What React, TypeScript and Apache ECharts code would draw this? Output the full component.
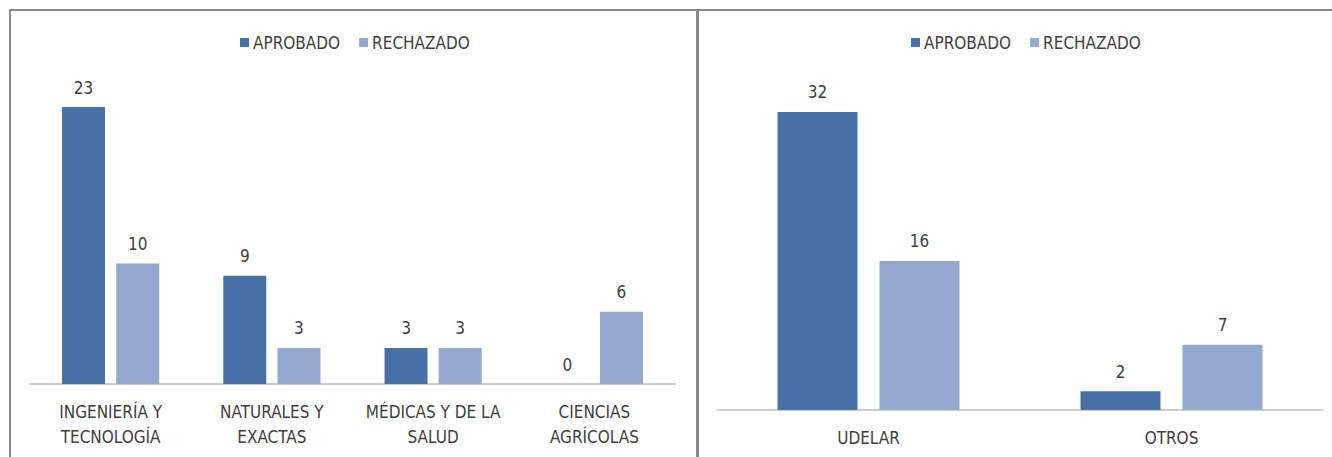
import React, { useEffect, useRef } from "react";
import * as echarts from "echarts";

const seriesNames = ["APROBADO", "RECHAZADO"];
const areaCategories = ["INGENIERÍA Y\nTECNOLOGÍA", "NATURALES Y\nEXACTAS", "MÉDICAS Y DE LA\nSALUD", "CIENCIAS\nAGRÍCOLAS"];
const areaAprobado = [23, 9, 3, 0];
const areaRechazado = [10, 3, 3, 6];
const instCategories = ["UDELAR", "OTROS"];
const instAprobado = [32, 2];
const instRechazado = [16, 7];

const COLORS = ["#4672A8", "#95A9D0"];
const FONT = "'Liberation Sans Narrow', 'DejaVu Sans Condensed', 'Open Sans', sans-serif";
const TEXT = "#404040";

export default function App() {
  const ref = useRef<HTMLDivElement>(null);
  useEffect(() => {
    if (!ref.current) return;
    const chart = echarts.init(ref.current, undefined, { renderer: "svg" });
    const label = {
      show: true,
      position: "top",
      distance: 11,
      color: TEXT,
      fontSize: 17,
      fontFamily: FONT,
    };
    const axisLabel = {
      interval: 0,
      color: TEXT,
      fontSize: 17,
      fontFamily: FONT,
      lineHeight: 25,
      margin: 15,
    };
    const legendBase = {
      itemWidth: 9,
      itemHeight: 9,
      itemGap: 19,
      icon: "rect",
      top: 29,
      textStyle: { color: TEXT, fontSize: 17, fontFamily: FONT, padding: [0, 0, 0, -1] },
      data: seriesNames,
    };
    chart.setOption({
      animation: false,
      backgroundColor: "#ffffff",
      color: COLORS,
      legend: [
        { ...legendBase, left: 235 },
        { ...legendBase, left: 906 },
      ],
      grid: [
        { left: 30, top: 83, width: 645, height: 301 },
        { left: 717, top: 84, width: 606, height: 326 },
      ],
      xAxis: [
        {
          type: "category",
          gridIndex: 0,
          data: areaCategories,
          axisTick: { show: false },
          axisLine: { lineStyle: { color: "#BDBDBD", width: 1.5 } },
          axisLabel,
        },
        {
          type: "category",
          gridIndex: 1,
          data: instCategories,
          axisTick: { show: false },
          axisLine: { lineStyle: { color: "#BDBDBD", width: 1.5 } },
          axisLabel,
        },
      ],
      yAxis: [
        { type: "value", gridIndex: 0, min: 0, max: 25, show: false, splitLine: { show: false } },
        { type: "value", gridIndex: 1, min: 0, max: 35, show: false, splitLine: { show: false } },
      ],
      series: [
        { name: seriesNames[0], type: "bar", xAxisIndex: 0, yAxisIndex: 0, data: areaAprobado, barWidth: 43, barGap: "26%", label },
        { name: seriesNames[1], type: "bar", xAxisIndex: 0, yAxisIndex: 0, data: areaRechazado, barWidth: 43, barGap: "26%", label },
        { name: seriesNames[0], type: "bar", xAxisIndex: 1, yAxisIndex: 1, data: instAprobado, barWidth: 80, barGap: "27.5%", label },
        { name: seriesNames[1], type: "bar", xAxisIndex: 1, yAxisIndex: 1, data: instRechazado, barWidth: 80, barGap: "27.5%", label },
      ],
      graphic: [
        { type: "line", shape: { x1: 9, y1: 10, x2: 1332, y2: 10 }, style: { stroke: "#898989", lineWidth: 2 }, silent: true },
        { type: "line", shape: { x1: 10, y1: 9, x2: 10, y2: 457 }, style: { stroke: "#898989", lineWidth: 2 }, silent: true },
        { type: "line", shape: { x1: 697.5, y1: 9, x2: 697.5, y2: 457 }, style: { stroke: "#898989", lineWidth: 3 }, silent: true },
      ],
    });
    return () => chart.dispose();
  }, []);
  return <div ref={ref} style={{ position: "fixed", left: 0, top: 0, width: 1332, height: 457 }} />;
}
